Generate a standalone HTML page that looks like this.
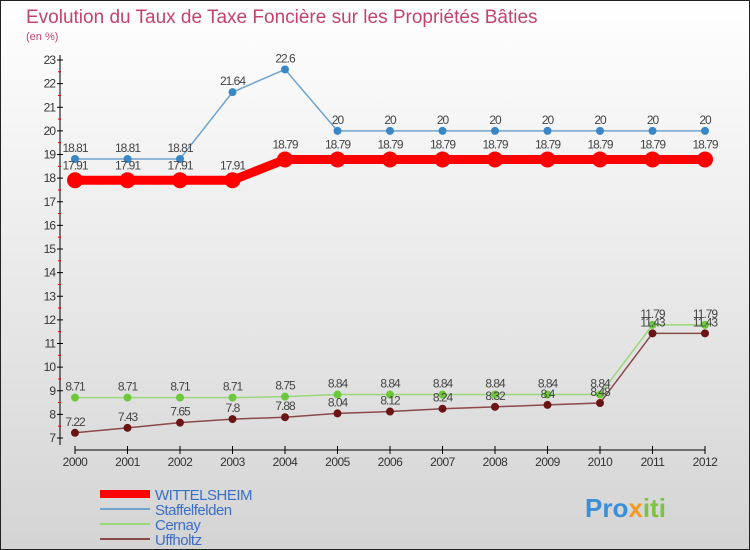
<!DOCTYPE html>
<html><head><meta charset="utf-8"><style>
body{margin:0;}
#c{width:750px;height:550px;position:relative;overflow:hidden;font-family:"Liberation Sans",sans-serif;}
</style></head><body>
<div id="c">
<svg id="s" width="750" height="550" xmlns="http://www.w3.org/2000/svg">
<defs><linearGradient id="bg" x1="0" y1="0" x2="0" y2="1"><stop offset="0" stop-color="#ffffff"/><stop offset="1" stop-color="#d4d4d4"/></linearGradient></defs>
<rect x="0.5" y="0.5" width="749" height="549" fill="url(#bg)" stroke="#222"/>
<text x="26" y="23" font-size="19" fill="#c4436e">Evolution du Taux de Taxe Foncière sur les Propriétés Bâties</text>
<text x="26" y="40" font-size="11" fill="#c4436e">(en %)</text>
<g id="axes"></g><g id="series"></g><g id="legend"></g>
<text x="585" y="517" font-size="26" font-weight="bold" fill="#3a8fd8">Pro<tspan fill="#f29a1f">x</tspan><tspan fill="#7cc243">iti</tspan></text>
</svg></div>
<script>
const years=[2000,2001,2002,2003,2004,2005,2006,2007,2008,2009,2010,2011,2012];
const wittelsheim=[17.91,17.91,17.91,17.91,18.79,18.79,18.79,18.79,18.79,18.79,18.79,18.79,18.79];
const staffelfelden=[18.81,18.81,18.81,21.64,22.6,20,20,20,20,20,20,20,20];
const cernay=[8.71,8.71,8.71,8.71,8.75,8.84,8.84,8.84,8.84,8.84,8.84,11.79,11.79];
const uffholtz=[7.22,7.43,7.65,7.8,7.88,8.04,8.12,8.24,8.32,8.4,8.48,11.43,11.43];
const yTicks=[7,8,9,10,11,12,13,14,15,16,17,18,19,20,21,22,23];
const NS="http://www.w3.org/2000/svg";
const X=i=>75+i*52.5, Y=v=>438-(v-7)*(378/16);
function mk(p,t,a){const e=document.createElementNS(NS,t);for(const k in a)e.setAttribute(k,a[k]);p.appendChild(e);return e;}
const ax=document.getElementById('axes');
let l=mk(ax,'line',{x1:60,y1:55,x2:60,y2:445,stroke:'#000','stroke-width':1});


l=mk(ax,'line',{x1:75,y1:450,x2:705,y2:450,stroke:'#000','stroke-width':1});


yTicks.forEach(v=>{
 mk(ax,'line',{x1:57,y1:Y(v),x2:63,y2:Y(v),stroke:'#000'});
 if(v<23)mk(ax,'line',{x1:58,y1:Y(v+0.5),x2:61,y2:Y(v+0.5),stroke:'#e00'});
 const t=mk(ax,'text',{x:55,y:Y(v)+4,'font-size':12,'text-anchor':'end',fill:'#333','letter-spacing':'-1'});
 t.textContent=v;
 
 
});
years.forEach((y,i)=>{
 mk(ax,'line',{x1:X(i),y1:446,x2:X(i),y2:454,stroke:'#000'});
 const t=mk(ax,'text',{x:X(i),y:466,'font-size':12,'text-anchor':'middle',fill:'#333','letter-spacing':'-0.5'});
 t.textContent=y;
 
 
});
const se=document.getElementById('series');
const defs=[
 {n:'staffelfelden',d:staffelfelden,c:'#6fa3cf',m:'#3a87c8',w:1.5,r:4,lab:-7},
 {n:'cernay',d:cernay,c:'#9ad77a',m:'#6cc83a',w:1.5,r:4,lab:-7},
 {n:'uffholtz',d:uffholtz,c:'#8a4a4a',m:'#6a1515',w:1.5,r:4,lab:-7},
 {n:'wittelsheim',d:wittelsheim,c:'#f00',m:'#f00',w:9,r:8,lab:-11}];
defs.forEach(s=>{
 const g=mk(se,'g',{});
 
 
 const p=mk(g,'polyline',{points:s.d.map((v,i)=>X(i)+','+Y(v)).join(' '),fill:'none',stroke:s.c,'stroke-width':s.w});
 
 
 s.d.forEach((v,i)=>{
  const c=mk(g,'circle',{cx:X(i),cy:Y(v),r:s.r,fill:s.m});
  
  
  const t=mk(g,'text',{x:X(i),y:Y(v)+s.lab,'font-size':12,'text-anchor':'middle',fill:'#444','letter-spacing':'-1'});
  t.textContent=v;
  
  
 });
});
const lg=document.getElementById('legend');
const items=[['WITTELSHEIM','#f00',8],['Staffelfelden','#6fa3cf',2],['Cernay','#9ad77a',2],['Uffholtz','#8a4a4a',2]];
items.forEach((it,i)=>{
 const y=494+i*15;
 const g=mk(lg,'g',{});
 
 
 mk(g,'line',{x1:100,y1:y,x2:150,y2:y,stroke:it[1],'stroke-width':it[2]});
 const t=mk(g,'text',{x:155,y:y+6,'font-size':15,fill:'#3a6fc8','letter-spacing':'-0.5'});
 t.textContent=it[0];
});
</script>
</body></html>
